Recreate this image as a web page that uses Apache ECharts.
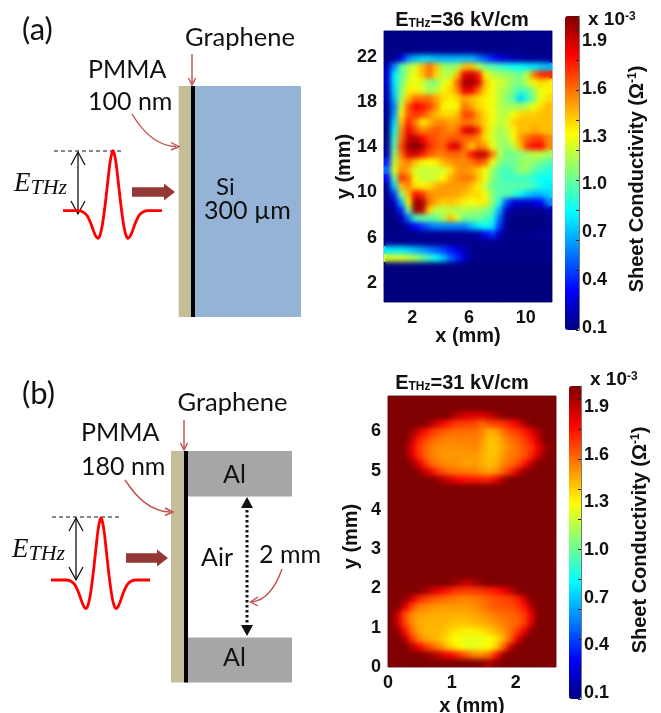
<!DOCTYPE html>
<html><head><meta charset="utf-8">
<script src="https://cdn.jsdelivr.net/npm/echarts@6/dist/echarts.min.js"></script>
<style>
html,body{margin:0;padding:0;background:#fff}
#c{position:absolute;left:0;top:0;width:661px;height:713px}
.soft{position:absolute;backdrop-filter:blur(2.7px);-webkit-backdrop-filter:blur(2.7px)}
</style></head><body>
<div id="c"></div>
<div class="soft" style="left:385px;top:32px;width:166px;height:269px"></div>
<div class="soft" style="left:389px;top:397px;width:166px;height:269px"></div>
<script>
// ---- Data (values in units of 1e-3 / ohm), rows listed top to bottom ----
const sheetA = [
[.12,.12,.12,.12,.12,.12,.12,.12,.12,.12,.12,.12,.12,.12,.12,.12,.12,.12,.12,.13,.13,.13,.13,.13],
[.12,.12,.12,.12,.12,.12,.12,.12,.12,.12,.12,.12,.12,.12,.12,.12,.12,.12,.12,.13,.13,.13,.13,.13],
[.12,.12,.12,.12,.12,.13,.13,.13,.13,.13,.13,.13,.13,.12,.12,.12,.12,.12,.12,.12,.12,.12,.12,.12],
[.12,.12,.3,.6,.7,.75,.75,.7,.7,.7,.7,.7,.7,.6,.5,.4,.3,.25,.2,.18,.15,.15,.15,.15],
[.2,.6,1.0,1.15,1.25,1.45,1.6,1.45,1.15,1.1,1.15,1.45,1.45,1.2,1.05,1.0,.95,.9,.85,.85,.8,.8,.75,.7],
[.25,.8,1.0,1.2,1.3,1.45,1.6,1.4,1.2,1.2,1.45,1.85,1.92,1.78,1.35,1.2,1.15,1.15,1.1,1.05,1.2,1.6,1.75,1.75],
[.25,.8,1.05,1.25,1.3,1.25,1.1,1.1,1.25,1.35,1.62,1.98,2.0,1.88,1.45,1.3,1.25,1.2,1.1,1.1,1.2,1.35,1.4,1.35],
[.2,.75,1.1,1.35,1.35,1.25,1.15,1.2,1.35,1.4,1.55,1.85,1.85,1.62,1.4,1.3,1.2,1.15,1.05,.95,1.0,1.15,1.3,1.35],
[.2,.7,1.15,1.45,1.6,1.6,1.6,1.5,1.4,1.35,1.4,1.5,1.45,1.4,1.35,1.3,1.2,1.1,1.0,.75,.9,1.1,1.3,1.4],
[.15,.6,1.25,1.65,1.82,1.78,1.7,1.55,1.35,1.3,1.35,1.6,1.5,1.4,1.35,1.3,1.2,1.15,1.15,1.15,1.2,1.3,1.4,1.45],
[.15,.65,1.35,1.65,1.72,1.68,1.55,1.45,1.4,1.4,1.45,1.68,1.68,1.5,1.4,1.3,1.2,1.2,1.3,1.4,1.42,1.42,1.45,1.45],
[.12,.75,1.45,1.75,1.58,1.35,1.45,1.55,1.55,1.5,1.52,1.6,1.58,1.5,1.4,1.3,1.2,1.25,1.4,1.45,1.45,1.45,1.45,1.45],
[.12,.85,1.55,1.85,1.68,1.55,1.6,1.65,1.6,1.55,1.6,1.85,1.92,1.72,1.4,1.25,1.15,1.2,1.35,1.45,1.45,1.5,1.45,1.45],
[.12,.95,1.6,1.92,1.95,1.82,1.7,1.65,1.6,1.65,1.65,1.62,1.62,1.55,1.38,1.25,1.15,1.15,1.3,1.5,1.62,1.68,1.68,1.55],
[.15,1.0,1.68,1.98,2.06,1.98,1.75,1.65,1.62,1.85,1.9,1.62,1.42,1.58,1.52,1.3,1.15,1.1,1.2,1.45,1.72,1.8,1.8,1.55],
[.2,1.1,1.6,1.88,1.9,1.78,1.65,1.58,1.58,1.62,1.62,1.58,1.78,1.92,1.92,1.58,1.2,1.05,1.05,1.1,1.15,1.2,1.2,1.15],
[.4,1.2,1.5,1.58,1.45,1.35,1.32,1.35,1.48,1.52,1.55,1.55,1.58,1.68,1.6,1.3,1.1,1.05,1.05,1.1,1.15,1.1,1.05,1.0],
[.55,1.25,1.55,1.48,1.25,1.22,1.22,1.22,1.25,1.38,1.52,1.55,1.5,1.42,1.3,1.15,1.0,.95,1.0,1.12,1.12,1.0,.95,.9],
[.35,1.05,1.72,1.62,1.3,1.22,1.22,1.25,1.33,1.48,1.55,1.58,1.58,1.45,1.3,1.1,1.0,.95,.95,.95,.95,.9,.85,.85],
[.15,.75,1.45,1.55,1.38,1.35,1.38,1.48,1.52,1.52,1.52,1.52,1.45,1.35,1.2,1.05,1.0,1.0,1.0,1.0,1.0,.95,.85,.8],
[.12,.45,1.1,1.45,1.8,1.72,1.55,1.52,1.52,1.5,1.5,1.45,1.4,1.4,1.3,1.1,1.0,1.0,.95,.85,.75,.7,.7,.75],
[.12,.25,.7,1.35,2.0,1.98,1.6,1.48,1.42,1.45,1.4,1.35,1.3,1.35,1.35,1.1,.9,.5,.3,.25,.25,.3,.35,.6],
[.1,.15,.4,1.05,2.0,1.95,1.42,1.2,1.2,1.2,1.15,1.2,1.15,1.15,1.1,1.0,.7,.22,.15,.13,.13,.13,.13,.2],
[.1,.1,.2,.55,.95,1.05,1.0,1.05,1.15,1.45,1.25,1.05,1.05,1.05,1.0,.9,.55,.15,.12,.11,.11,.11,.12,.13],
[.1,.1,.12,.2,.35,.45,.55,.6,.6,.6,.6,.6,.7,.8,.85,.8,.45,.13,.11,.1,.1,.1,.11,.12],
[.12,.12,.12,.12,.12,.13,.14,.15,.15,.15,.15,.15,.17,.2,.35,.45,.25,.12,.12,.12,.13,.14,.15,.15],
[.13,.13,.13,.13,.13,.13,.13,.13,.13,.13,.13,.13,.13,.13,.13,.13,.13,.12,.12,.12,.12,.12,.12,.12],
[.8,.8,.8,.75,.7,.65,.58,.52,.46,.38,.3,.2,.14,.12,.12,.12,.12,.12,.12,.12,.12,.12,.12,.12],
[1.25,1.25,1.25,1.2,1.15,1.05,.95,.85,.72,.55,.42,.25,.14,.12,.12,.12,.12,.12,.12,.12,.12,.12,.12,.12],
[.1,.1,.1,.1,.1,.1,.1,.1,.1,.1,.1,.1,.1,.1,.1,.1,.1,.1,.1,.1,.1,.1,.1,.1],
[.1,.1,.1,.1,.1,.1,.1,.1,.1,.1,.1,.1,.1,.1,.1,.1,.1,.1,.1,.1,.1,.1,.1,.1],
[.1,.1,.1,.1,.1,.1,.1,.1,.1,.1,.1,.1,.1,.1,.1,.1,.1,.1,.1,.1,.1,.1,.1,.1],
[.1,.1,.1,.1,.1,.1,.1,.1,.1,.1,.1,.1,.1,.1,.1,.1,.1,.1,.1,.1,.1,.1,.1,.1],
[.1,.1,.1,.1,.1,.1,.1,.1,.1,.1,.1,.1,.1,.1,.1,.1,.1,.1,.1,.1,.1,.1,.1,.1]
];
const sheetB = [
[2.06,2.06,2.06,2.06,2.06,2.06,2.06,2.06,2.06,2.06,2.06,2.06,2.06,2.06,2.06,2.06,2.06,2.06,2.06,2.06,2.06,2.06,2.06,2.06],
[2.06,2.06,2.06,2.06,2.06,2.06,2.06,2.06,2.06,2.06,2.06,2.06,2.06,2.06,2.06,2.06,2.06,2.06,2.06,2.06,2.06,2.06,2.06,2.06],
[2.06,2.06,2.06,2.06,2.06,2.06,2.06,2.06,2.06,1.98,1.92,1.88,1.88,1.88,1.92,1.98,2.06,2.06,2.06,2.06,2.06,2.06,2.06,2.06],
[2.06,2.06,2.06,2.06,2.06,2.04,1.95,1.85,1.78,1.72,1.7,1.7,1.68,1.62,1.68,1.7,1.72,1.78,1.85,1.98,2.06,2.06,2.06,2.06],
[2.06,2.06,2.06,2.0,1.88,1.78,1.7,1.66,1.63,1.6,1.6,1.6,1.6,1.56,1.47,1.5,1.6,1.66,1.7,1.76,1.86,1.98,2.06,2.06],
[2.06,2.06,2.06,1.92,1.76,1.68,1.62,1.58,1.56,1.56,1.58,1.56,1.58,1.53,1.45,1.45,1.53,1.6,1.63,1.7,1.78,1.92,2.06,2.06],
[2.06,2.06,2.04,1.85,1.7,1.62,1.56,1.54,1.54,1.54,1.54,1.54,1.56,1.5,1.44,1.44,1.5,1.56,1.6,1.66,1.72,1.85,2.0,2.06],
[2.06,2.06,2.04,1.88,1.72,1.62,1.56,1.53,1.52,1.52,1.52,1.52,1.52,1.48,1.44,1.45,1.53,1.58,1.6,1.66,1.75,1.9,2.04,2.06],
[2.06,2.06,2.06,2.0,1.85,1.7,1.6,1.56,1.54,1.54,1.52,1.5,1.52,1.48,1.45,1.47,1.56,1.6,1.66,1.78,1.92,2.05,2.06,2.06],
[2.06,2.06,2.06,2.06,2.02,1.9,1.78,1.68,1.63,1.6,1.58,1.58,1.56,1.53,1.5,1.54,1.63,1.73,1.88,2.02,2.06,2.06,2.06,2.06],
[2.06,2.06,2.06,2.06,2.06,2.06,2.04,1.98,1.92,1.84,1.8,1.78,1.78,1.76,1.76,1.84,1.98,2.06,2.06,2.06,2.06,2.06,2.06,2.06],
[2.06,2.06,2.06,2.06,2.06,2.06,2.06,2.06,2.06,2.06,2.06,2.06,2.06,2.06,2.06,2.06,2.06,2.06,2.06,2.06,2.06,2.06,2.06,2.06],
[2.06,2.06,2.06,2.06,2.06,2.06,2.06,2.06,2.06,2.06,2.06,2.06,2.06,2.06,2.06,2.06,2.06,2.06,2.06,2.06,2.06,2.06,2.06,2.06],
[2.06,2.06,2.06,2.06,2.06,2.06,2.06,2.06,2.06,2.06,2.06,2.06,2.06,2.06,2.06,2.06,2.06,2.06,2.06,2.06,2.06,2.06,2.06,2.06],
[2.06,2.06,2.06,2.06,2.06,2.06,2.06,2.06,2.06,2.06,2.06,2.06,2.06,2.06,2.06,2.06,2.06,2.06,2.06,2.06,2.06,2.06,2.06,2.06],
[2.06,2.06,2.06,2.06,2.06,2.06,2.06,2.06,2.06,2.06,2.06,2.06,2.06,2.06,2.06,2.06,2.06,2.06,2.06,2.06,2.06,2.06,2.06,2.06],
[2.06,2.06,2.06,2.06,2.06,2.06,2.06,2.06,2.06,2.06,2.06,2.06,2.06,2.06,2.06,2.06,2.06,2.06,2.06,2.06,2.06,2.06,2.06,2.06],
[2.06,2.06,2.06,2.06,2.06,2.06,2.06,2.06,2.06,2.06,2.06,2.06,2.06,2.06,2.06,2.06,2.06,2.06,2.06,2.06,2.06,2.06,2.06,2.06],
[2.06,2.06,2.06,2.06,2.06,2.06,2.06,2.06,2.06,2.06,2.06,2.06,2.06,2.06,2.06,2.06,2.06,2.06,2.06,2.06,2.06,2.06,2.06,2.06],
[2.06,2.06,2.06,2.06,2.06,2.06,2.06,2.06,2.06,2.06,2.06,2.06,2.06,2.06,2.06,2.06,2.06,2.06,2.06,2.06,2.06,2.06,2.06,2.06],
[2.06,2.06,2.06,2.06,2.06,2.06,2.06,2.06,2.06,2.06,2.06,2.06,2.06,2.06,2.06,2.06,2.06,2.06,2.06,2.06,2.06,2.06,2.06,2.06],
[2.06,2.06,2.06,2.06,2.06,2.06,2.06,2.06,2.06,2.06,2.06,2.06,2.06,2.06,2.06,2.06,2.06,2.06,2.06,2.06,2.06,2.06,2.06,2.06],
[2.06,2.06,2.06,2.06,2.06,2.06,2.06,2.06,2.06,2.06,2.06,2.06,2.06,2.06,2.06,2.06,2.06,2.06,2.06,2.06,2.06,2.06,2.06,2.06],
[2.06,2.06,2.06,2.06,2.06,2.06,2.06,2.06,2.06,2.02,1.96,1.92,1.98,2.03,2.06,2.06,2.06,2.06,2.06,2.06,2.06,2.06,2.06,2.06],
[2.06,2.06,2.06,2.06,2.04,1.98,1.9,1.83,1.78,1.72,1.7,1.7,1.7,1.72,1.75,1.78,1.83,1.93,2.03,2.06,2.06,2.06,2.06,2.06],
[2.06,2.06,2.02,1.88,1.75,1.68,1.64,1.62,1.6,1.58,1.56,1.56,1.58,1.6,1.63,1.66,1.68,1.7,1.76,1.9,2.04,2.06,2.06,2.06],
[2.06,2.04,1.85,1.68,1.58,1.55,1.53,1.52,1.52,1.52,1.52,1.52,1.54,1.58,1.62,1.65,1.66,1.66,1.7,1.78,1.95,2.06,2.06,2.06],
[2.06,1.88,1.66,1.55,1.5,1.5,1.48,1.48,1.48,1.47,1.47,1.48,1.5,1.52,1.55,1.58,1.6,1.62,1.64,1.7,1.85,2.05,2.06,2.06],
[2.06,1.9,1.68,1.55,1.48,1.47,1.47,1.47,1.46,1.44,1.44,1.45,1.46,1.48,1.5,1.54,1.57,1.6,1.62,1.7,1.88,2.06,2.06,2.06],
[2.06,2.0,1.78,1.6,1.5,1.46,1.46,1.46,1.43,1.38,1.36,1.35,1.36,1.38,1.42,1.47,1.52,1.6,1.7,1.85,2.03,2.06,2.06,2.06],
[2.06,2.06,1.95,1.72,1.56,1.5,1.47,1.44,1.38,1.33,1.3,1.28,1.28,1.29,1.32,1.38,1.47,1.62,1.85,2.03,2.06,2.06,2.06,2.06],
[2.06,2.06,2.06,1.95,1.82,1.7,1.62,1.55,1.45,1.38,1.32,1.28,1.28,1.3,1.33,1.42,1.62,1.9,2.04,2.06,2.06,2.06,2.06,2.06],
[2.06,2.06,2.06,2.06,2.06,2.03,1.98,1.9,1.85,1.78,1.7,1.62,1.55,1.55,1.6,1.78,2.0,2.06,2.06,2.06,2.06,2.06,2.06,2.06],
[2.06,2.06,2.06,2.06,2.06,2.06,2.06,2.06,2.06,2.06,2.06,2.06,2.06,2.03,1.98,2.03,2.06,2.06,2.06,2.06,2.06,2.06,2.06,2.06]
];
const xTicksA = [2, 6, 10];
const yTicksA = [2, 6, 10, 14, 18, 22];
const xTicksB = [0, 1, 2];
const yTicksB = [0, 1, 2, 3, 4, 5, 6];
const colorbarTicks = [0.1, 0.4, 0.7, 1.0, 1.3, 1.6, 1.9];
const pulseTime = [0,15,20,24,28,31,33,35,37,39,41,43,45,47,49,50,51,53,55,57,59,61,63,65,67,69,72,76,80,85,99];
const pulseAmp = [0,0,-0.02,-0.08,-0.22,-0.36,-0.43,-0.46,-0.41,-0.27,-0.05,0.22,0.52,0.8,0.97,1,0.97,0.8,0.52,0.22,-0.05,-0.27,-0.41,-0.46,-0.43,-0.36,-0.22,-0.08,-0.02,0,0];

// ---- Styles ----
const jet = ['#00007f','#0000ff','#007fff','#00ffff','#7fff7f','#ffff00','#ff7f00','#ff0000','#7f0000'];
const LAB = 'bold 19px "Liberation Sans"';
const SUB = 'bold 12px "Liberation Sans"';
const SANS = 'Lato';
const RED = '#c0504d';
const cells = rows => rows.flatMap((r, i) => r.map((v, c) => [c, rows.length - 1 - i, v]));
const idx = n => Array.from({length: n}, (_, i) => String(i));
const labelStyle = {fontFamily: 'Liberation Sans', fontWeight: 'bold', fontSize: 18, color: '#111'};
const nameStyle = {fontFamily: 'Liberation Sans', fontWeight: 'bold', fontSize: 20, color: '#111'};
const frame = {show: false};

const catX = (g) => ({type: 'category', gridIndex: g, data: idx(24), show: false});
const catY = (g) => ({type: 'category', gridIndex: g, data: idx(34), show: false});
const valAxis = (g, min, max, ticks, extra) => Object.assign({
  type: 'value', gridIndex: g, min, max, splitLine: frame, axisLine: {show: false}, axisTick: {show: false},
  nameLocation: 'middle', nameTextStyle: nameStyle, nameMoveOverlap: false,
  axisLabel: Object.assign({customValues: ticks, margin: 7, showMinLabel: true, showMaxLabel: true}, labelStyle)
}, extra);
const hidden = (g) => ({type: 'value', gridIndex: g, min: 0, max: 1, show: false});

const cbLabels = (g, min, max) => ({type: 'value', gridIndex: g, position: 'right', min, max, splitLine: frame,
  axisLine: {show: false}, axisTick: {show: false},
  axisLabel: Object.assign({customValues: colorbarTicks, margin: 3, formatter: v => v.toFixed(1), showMinLabel: true, showMaxLabel: true}, labelStyle)});
const cbTicks = (g, max) => ({type: 'value', gridIndex: g, position: 'right', min: 0, max, interval: 30, z: 6, splitLine: frame,
  axisLine: {show: true, lineStyle: {color: '#777', width: 1}}, axisLabel: {show: false},
  axisTick: {inside: true, length: 3, lineStyle: {color: '#222', width: 1}}});

// ---- Schematic helpers ----
const txt = (text, x, y, size, extra) => ({type: 'text', z: 20, style: Object.assign({text, x, y, fill: '#111',
  font: `${size}px ${SANS}`, textAlign: 'left', textVerticalAlign: 'middle'}, extra)});
const rect = (x, y, w, h, fill) => ({type: 'rect', z: 10, shape: {x, y, width: w, height: h}, style: {fill}});
const line = (x1, y1, x2, y2, stroke, w, dash) => ({type: 'line', z: 12, shape: {x1, y1, x2, y2}, style: {stroke, lineWidth: w, lineDash: dash}});
const open = (pts, stroke, w) => ({type: 'polyline', z: 12, shape: {points: pts}, style: {stroke, lineWidth: w, fill: null}});
const solid = (pts, fill) => ({type: 'polygon', z: 13, shape: {points: pts}, style: {fill}});
const curve = (x1, y1, c1x, c1y, c2x, c2y, x2, y2) => ({type: 'bezierCurve', z: 12,
  shape: {x1, y1, cpx1: c1x, cpy1: c1y, cpx2: c2x, cpy2: c2y, x2, y2}, style: {stroke: RED, lineWidth: 1.4, fill: null}});
const bigArrow = (x0, x1, y) => solid([[x0, y-4.8],[x1-11, y-4.8],[x1-11, y-8.5],[x1, y],[x1-11, y+8.5],[x1-11, y+4.8],[x0, y+4.8]], '#953735');
const eThz = (x, y) => ({type: 'text', z: 20, style: {x, y, textAlign: 'left', textVerticalAlign: 'middle',
  text: '{e|E}{s|THz}', rich: {
    e: {font: 'italic 27px "Liberation Serif"', fill: '#111'},
    s: {font: 'italic 22px "Liberation Serif"', fill: '#111', verticalAlign: 'bottom', padding: [8, 0, 0, 0]}}}});
const plotTitle = (text, x, y) => ({type: 'text', z: 20, style: {x, y, textAlign: 'center', textVerticalAlign: 'middle',
  text: `{n|E}{s|THz}{n|=${text} kV/cm}`, rich: {
    n: {font: 'bold 20px "Liberation Sans"', fill: '#111'}, s: {font: SUB, fill: '#111', verticalAlign: 'bottom', padding: [8, 0, 0, 0]}}}});
const exponent = (x, y) => ({type: 'text', z: 20, style: {x, y, textAlign: 'left', textVerticalAlign: 'middle',
  text: '{n|x 10}{s|-3}', rich: {n: {font: LAB, fill: '#111'}, s: {font: SUB, fill: '#111', verticalAlign: 'top'}}}});
const barTitle = (x, y) => ({type: 'text', z: 20, rotation: Math.PI / 2, x, y, style: {x: 0, y: 0, textAlign: 'center', textVerticalAlign: 'middle',
  text: '{n|Sheet Conductivity (Ω}{s|-1}{n|)}', rich: {n: {font: 'bold 20px "Liberation Sans"', fill: '#111'}, s: {font: SUB, fill: '#111', verticalAlign: 'top'}}}});

const schematic = [
  // panel (a)
  txt('(a)', 22, 30, 31), txt('Graphene', 185, 38, 25.5), txt('PMMA', 88, 70, 25), txt('100 nm', 88, 102, 25),
  rect(178.7, 86, 12.5, 231, '#c4bd97'), rect(195, 86, 106, 231, '#95b3d7'), rect(191, 86, 4, 231, '#000'),
  txt('Si', 216, 187, 24), txt('300 µm', 204, 211, 25),
  line(192, 54, 192, 84, RED, 1.4), open([[188.5, 78],[192, 85],[195.5, 78]], RED, 1.4),
  curve(132, 114, 144, 134, 158, 146, 176, 146.5), open([[171, 142.5],[179, 146.7],[171, 150]], RED, 1.4),
  line(54, 151, 123, 151, '#111', 1, [4, 3]),
  line(78, 152, 78, 213, '#111', 1.3), open([[71, 165],[78, 152],[85, 165]], '#111', 1.3), open([[71, 201],[78, 214],[85, 201]], '#111', 1.3),
  bigArrow(132, 175, 192), eThz(14, 184),
  // panel (b)
  txt('(b)', 22, 394, 31), txt('Graphene', 177.5, 403, 25.5), txt('PMMA', 81, 433, 25), txt('180 nm', 81, 467, 25),
  rect(171, 451, 13, 231.5, '#c4bd97'), rect(188, 451, 104, 45.5, '#a6a6a6'), rect(188, 637.5, 104, 45, '#a6a6a6'), rect(184, 451, 4, 231.5, '#000'),
  txt('Al', 223, 475, 25), txt('Al', 223, 658, 25), txt('Air', 201, 558, 25), txt('2 mm', 259, 555, 25),
  line(184, 420, 184, 449, RED, 1.4), open([[180.5, 443],[184, 450],[187.5, 443]], RED, 1.4),
  curve(125, 480, 137, 498, 150, 511, 170, 512), open([[165, 508],[173, 512],[165, 515.5]], RED, 1.4),
  curve(282, 569, 276, 586, 267, 600, 252, 602), open([[258, 597],[250.5, 602],[258, 606]], RED, 1.4),
  line(247, 505, 247, 630, '#111', 3, [2.6, 2.4]),
  solid([[247, 497],[253, 508],[241, 508]], '#111'), solid([[247, 636],[253, 625],[241, 625]], '#111'),
  line(52, 517, 120, 517, '#111', 1, [4, 3]),
  line(76, 518, 76, 579, '#111', 1.3), open([[69, 531],[76, 518],[83, 531]], '#111', 1.3), open([[69, 567],[76, 580],[83, 567]], '#111', 1.3),
  bigArrow(126, 168, 558), eThz(12, 550),
  // labels around the maps
  plotTitle(36, 462, 20), plotTitle(31, 462, 383),
  exponent(588, 20), exponent(590, 380),
  barTitle(637, 179), barTitle(640, 540)
];

const noBounds = {outerBoundsMode: 'none'};
const option = {
  animation: false, backgroundColor: '#fff',
  grid: [
    {left: 384, top: 31, width: 168, height: 271, show: true, borderColor: '#888', borderWidth: 1, backgroundColor: 'transparent', ...noBounds},
    {left: 388, top: 396, width: 168, height: 271, show: true, borderColor: '#888', borderWidth: 1, backgroundColor: 'transparent', ...noBounds},
    {left: 565, top: 16, width: 14, height: 314, ...noBounds},
    {left: 569, top: 386, width: 12, height: 313, ...noBounds},
    {left: 63, top: 144.7, width: 99, height: 96, ...noBounds},
    {left: 51, top: 511.8, width: 99, height: 99.2, ...noBounds}
  ],
  xAxis: [
    catX(0),
    valAxis(0, 0, 11.85, xTicksA, {position: 'bottom', name: 'x (mm)', nameGap: 24}),
    catX(1),
    valAxis(1, 0, 2.63, xTicksB, {position: 'bottom', name: 'x (mm)', nameGap: 29}),
    hidden(2), hidden(3),
    {type: 'value', gridIndex: 4, min: 0, max: 99, show: false},
    {type: 'value', gridIndex: 5, min: 0, max: 99, show: false}
  ],
  yAxis: [
    catY(0),
    valAxis(0, 0.3, 24.3, yTicksA, {position: 'left', name: 'y (mm)', nameGap: 30}),
    catY(1),
    valAxis(1, 0, 6.9, yTicksB, {position: 'left', name: 'y (mm)', nameGap: 27, nameTextStyle: Object.assign({padding: [0, 10, 0, 0]}, nameStyle)}),
    cbLabels(2, 0.0875, 2.057), cbTicks(2, 314),
    cbLabels(3, 0.062, 2.032), cbTicks(3, 313),
    {type: 'value', gridIndex: 4, min: -0.5, max: 1.1, show: false},
    {type: 'value', gridIndex: 5, min: -0.5, max: 1.1, show: false}
  ],
  visualMap: [
    {type: 'continuous', seriesIndex: 0, min: 0.1, max: 2.06, inRange: {color: jet}, left: 565, top: 16, itemWidth: 14, itemHeight: 314, padding: 0, z: 1, text: null, calculable: false},
    {type: 'continuous', seriesIndex: 1, min: 0.1, max: 2.06, inRange: {color: jet}, left: 569, top: 386, itemWidth: 12, itemHeight: 313, padding: 0, z: 1, text: null, calculable: false}
  ],
  series: [
    {type: 'heatmap', xAxisIndex: 0, yAxisIndex: 0, data: cells(sheetA), progressive: 0, itemStyle: {borderWidth: 0}},
    {type: 'heatmap', xAxisIndex: 2, yAxisIndex: 2, data: cells(sheetB), progressive: 0, itemStyle: {borderWidth: 0}},
    {type: 'line', xAxisIndex: 6, yAxisIndex: 8, smooth: 0.3, symbol: 'none', data: pulseTime.map((t, i) => [t, pulseAmp[i]]), lineStyle: {color: '#ff0000', width: 2.8}, z: 15},
    {type: 'line', xAxisIndex: 7, yAxisIndex: 9, smooth: 0.3, symbol: 'none', data: pulseTime.map((t, i) => [t, pulseAmp[i]]), lineStyle: {color: '#ff0000', width: 2.8}, z: 15}
  ],
  graphic: {elements: schematic}
};
echarts.init(document.getElementById('c')).setOption(option);
</script>
</body></html>
